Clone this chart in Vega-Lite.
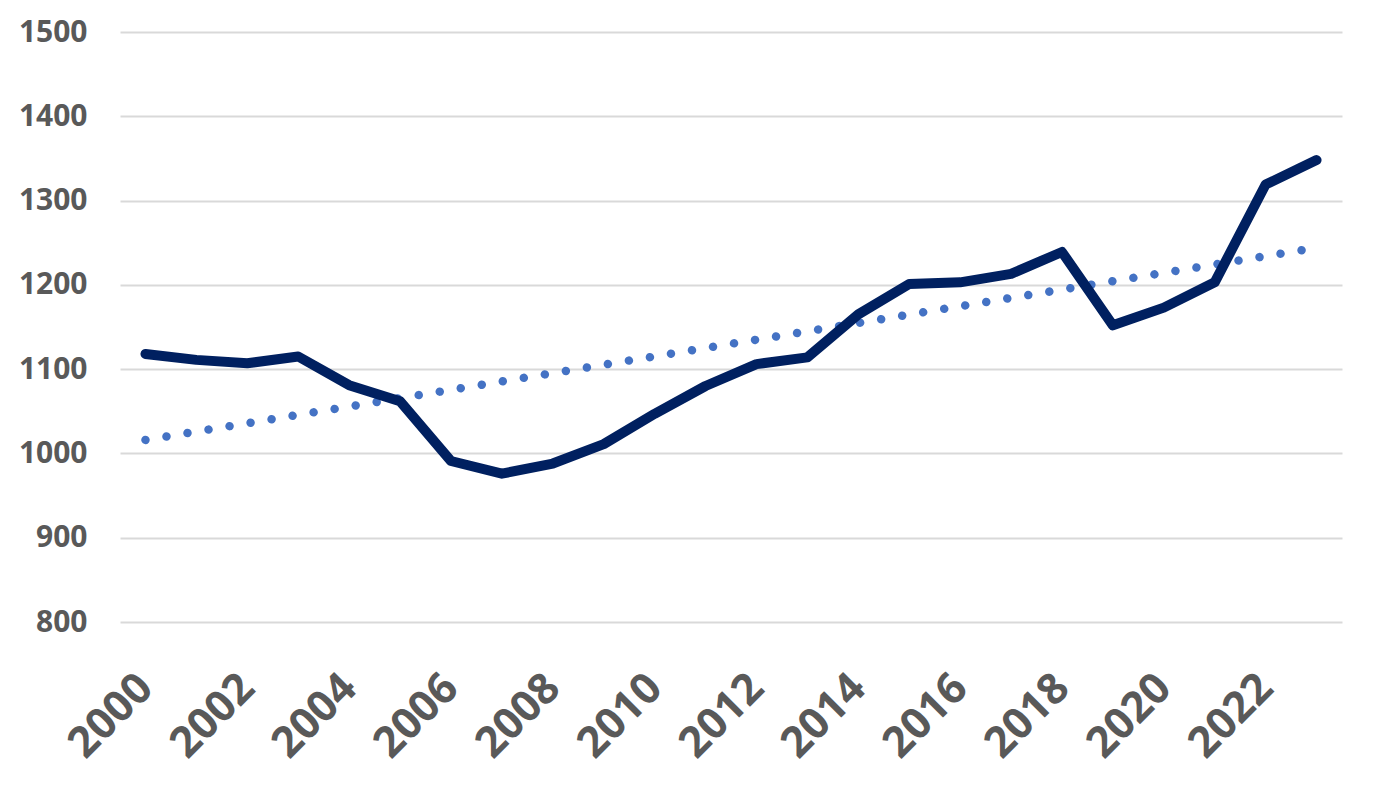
{
  "$schema": "https://vega.github.io/schema/vega-lite/v6.json",
  "width": 1222,
  "height": 590,
  "autosize": {"type": "none"},
  "padding": {"left": 120, "top": 32, "right": 39, "bottom": 167},
  "background": "white",
  "config": {
    "view": {"stroke": null},
    "axis": {"labelFont": "Open Sans", "labelFontWeight": "bold", "labelColor": "#595959", "labelFontSize": 30, "domain": false, "ticks": false}
  },
  "datasets": {
    "series": [
      {"year": 2000, "value": 1118},
      {"year": 2001, "value": 1111},
      {"year": 2002, "value": 1107},
      {"year": 2003, "value": 1115},
      {"year": 2004, "value": 1081},
      {"year": 2005, "value": 1062},
      {"year": 2006, "value": 991},
      {"year": 2007, "value": 976},
      {"year": 2008, "value": 988},
      {"year": 2009, "value": 1011},
      {"year": 2010, "value": 1047},
      {"year": 2011, "value": 1080},
      {"year": 2012, "value": 1106},
      {"year": 2013, "value": 1114},
      {"year": 2014, "value": 1165},
      {"year": 2015, "value": 1201},
      {"year": 2016, "value": 1203},
      {"year": 2017, "value": 1213},
      {"year": 2018, "value": 1239},
      {"year": 2019, "value": 1152},
      {"year": 2020, "value": 1173},
      {"year": 2021, "value": 1203},
      {"year": 2022, "value": 1319},
      {"year": 2023, "value": 1348}
    ],
    "trend": [
      {"year": 2000, "value": 1016},
      {"year": 2023, "value": 1244}
    ]
  },
  "layer": [
    {
      "data": {"name": "trend"},
      "mark": {"type": "line", "color": "#4472C4", "strokeWidth": 8.5, "strokeCap": "round", "strokeDash": [0.001, 21.3]},
      "encoding": {
        "x": {"field": "year", "type": "quantitative", "scale": {"domain": [1999.5, 2023.5], "nice": false, "zero": false},
          "axis": {"values": [2000, 2002, 2004, 2006, 2008, 2010, 2012, 2014, 2016, 2018, 2020, 2022], "format": "d", "labelAngle": -45, "labelAlign": "right", "labelBaseline": "middle", "labelPadding": 59, "labelFontSize": 43, "labelOverlap": false, "labelBound": false, "grid": false, "title": null}},
        "y": {"field": "value", "type": "quantitative", "scale": {"domain": [800, 1500], "nice": false, "zero": false},
          "axis": {"values": [800, 900, 1000, 1100, 1200, 1300, 1400, 1500], "format": "d", "grid": true, "gridColor": "#D9D9D9", "gridWidth": 2, "labelPadding": 33, "title": null}}
      }
    },
    {
      "data": {"name": "series"},
      "mark": {"type": "line", "color": "#002060", "strokeWidth": 10, "strokeCap": "round", "strokeJoin": "round"},
      "encoding": {
        "x": {"field": "year", "type": "quantitative"},
        "y": {"field": "value", "type": "quantitative"}
      }
    }
  ]
}
